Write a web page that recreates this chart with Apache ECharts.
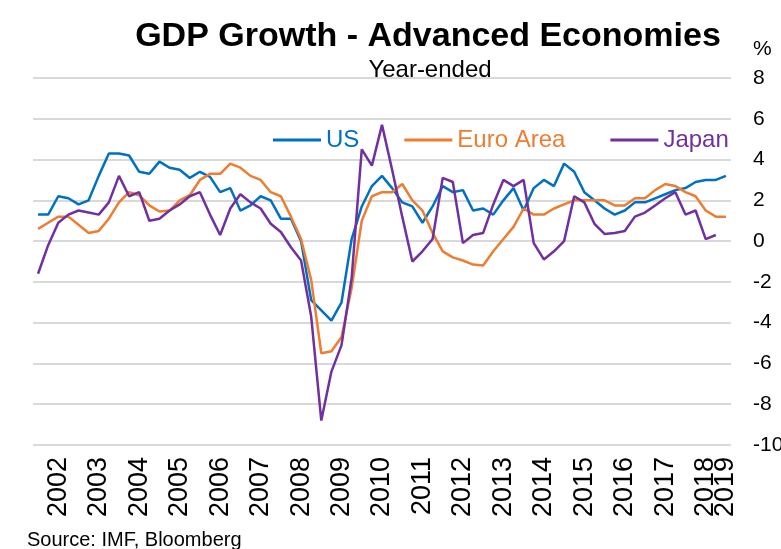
<!DOCTYPE html>
<html>
<head>
<meta charset="utf-8">
<script src="https://cdn.jsdelivr.net/npm/echarts@6/dist/echarts.min.js"></script>
<style>
  html, body { margin: 0; padding: 0; background: #fff; }
  #chart { width: 781px; height: 549px; }
</style>
</head>
<body>
<div id="chart"></div>
<script>
// quarterly, 2002Q1 .. 2019Q1
const quarters = []
for (let y = 2002; y <= 2019; y++) {
    for (let q = 1; q <= 4; q++) {
        if (y === 2019 && q > 1) break
        quarters.push(y + 'Q' + q)
    }
}

const usGrowth = [
    1.3, 1.3, 2.2, 2.1, 1.8, 2.0, 3.2, 4.3, 4.3, 4.2, 3.4, 3.3,
    3.9, 3.6, 3.5, 3.1, 3.4, 3.15, 2.4, 2.6, 1.5, 1.75, 2.2, 2.0,
    1.1, 1.1, 0.0, -2.9, -3.4, -3.9, -3.0, 0.1, 1.7, 2.7, 3.2, 2.6,
    1.9, 1.7, 0.9, 1.7, 2.7, 2.4, 2.5, 1.5, 1.6, 1.3, 2.0, 2.6,
    1.5, 2.6, 3.0, 2.7, 3.8, 3.4, 2.4, 2.0, 1.6, 1.3, 1.5, 1.9,
    1.9, 2.1, 2.3, 2.5, 2.6, 2.9, 3.0, 3.0, 3.2
]
const euroGrowth = [
    0.6, 0.9, 1.2, 1.2, 0.8, 0.4, 0.5, 1.1, 1.9, 2.4, 2.25, 1.75,
    1.45, 1.5, 2.0, 2.25, 3.0, 3.3, 3.3, 3.8, 3.6, 3.2, 3.0, 2.4,
    2.2, 1.2, 0.1, -1.9, -5.5, -5.4, -4.7, -2.3, 1.0, 2.2, 2.4, 2.4,
    2.8, 2.0, 1.5, 0.4, -0.5, -0.8, -0.95, -1.15, -1.2, -0.5, 0.1, 0.7,
    1.6, 1.3, 1.3, 1.6, 1.8, 2.0, 2.0, 2.0, 2.0, 1.75, 1.75, 2.1,
    2.1, 2.5, 2.8, 2.7, 2.4, 2.2, 1.5, 1.2, 1.2
]
const japanGrowth = [
    -1.6, -0.2, 0.9, 1.3, 1.5, 1.4, 1.3, 1.9, 3.2, 2.2, 2.4, 1.0,
    1.1, 1.5, 1.8, 2.2, 2.4, 1.3, 0.3, 1.6, 2.3, 1.9, 1.6, 0.85,
    0.45, -0.3, -0.95, -3.7, -8.8, -6.4, -5.1, -1.8, 4.5, 3.7, 5.7, 3.5,
    1.2, -1.0, -0.5, 0.1, 3.1, 2.9, -0.1, 0.3, 0.4, 1.8, 3.0, 2.7,
    3.0, -0.1, -0.9, -0.5, 0.0, 2.2, 1.9, 0.85, 0.35, 0.4, 0.5, 1.2,
    1.4, 1.75, 2.1, 2.4, 1.3, 1.5, 0.1, 0.3, null
]

const seriesNames = ['US', 'Euro Area', 'Japan']
const seriesColors = ['#0070C0', '#ED7D31', '#7030A0']
const yTicks = [-10, 8, 2]  // min, max, step

const FONT = '"Liberation Sans", Arial, sans-serif'

const chart = echarts.init(document.getElementById('chart'))

const lineSeries = (name, data, color) => ({
    name: name,
    type: 'line',
    data: data,
    showSymbol: false,
    symbol: 'none',
    smooth: false,
    lineStyle: { color: color, width: 2.5 },
    itemStyle: { color: color }
})

// the last year label sits right next to 2018, so it gets its own axis
// otherwise echarts drops one of the two
const xLabelStyle = (showIdx) => ({
    rotate: 90,
    margin: 12,
    fontSize: 27,
    color: '#000',
    fontFamily: FONT,
    hideOverlap: false,
    interval: showIdx,
    formatter: (v) => v.slice(0, 4)
})

const lastIdx = quarters.length - 1

const option = {
    animation: false,
    backgroundColor: '#fff',
    textStyle: { fontFamily: FONT },
    // keep the plot where it is, let -10 run off the edge like the original
    grid: { left: 33, right: 50, top: 78, bottom: 104, outerBoundsMode: 'none' },
    legend: {
        left: 273,
        top: 128,
        padding: 0,
        itemWidth: 48,
        itemHeight: 3,
        itemGap: 45,
        icon: 'rect',
        textStyle: { fontSize: 24, fontFamily: FONT },
        data: seriesNames.map((n, i) => ({ name: n, textStyle: { color: seriesColors[i] } }))
    },
    xAxis: [
        {
            type: 'category',
            data: quarters,
            boundaryGap: true,
            axisLine: { show: false },
            axisTick: { show: false },
            axisLabel: xLabelStyle((idx) => idx % 4 === 2 && idx !== lastIdx)
        },
        {
            type: 'category',
            data: quarters,
            position: 'bottom',
            boundaryGap: true,
            axisLine: { show: false },
            axisTick: { show: false },
            splitLine: { show: false },
            axisLabel: xLabelStyle((idx) => idx === lastIdx)
        }
    ],
    yAxis: {
        type: 'value',
        position: 'right',
        min: yTicks[0],
        max: yTicks[1],
        interval: yTicks[2],
        axisLine: { show: false },
        axisTick: { show: false },
        splitLine: { lineStyle: { color: '#d9d9d9', width: 2 } },
        axisLabel: {
            margin: 22,
            align: 'left',
            fontSize: 21,
            color: '#000',
            fontFamily: FONT
        }
    },
    graphic: [
        {
            type: 'text', x: 428, y: 37,
            style: { text: 'GDP Growth - Advanced Economies', fontSize: 34, fontWeight: 'bold',
                     fontFamily: FONT, fill: '#000', align: 'center', verticalAlign: 'middle' }
        },
        {
            type: 'text', x: 430, y: 70,
            style: { text: 'Year-ended', fontSize: 24, fontFamily: FONT, fill: '#000',
                     align: 'center', verticalAlign: 'middle' }
        },
        {
            type: 'text', x: 753, y: 49,
            style: { text: '%', fontSize: 21, fontFamily: FONT, fill: '#000',
                     align: 'left', verticalAlign: 'middle' }
        },
        {
            type: 'text', x: 27, y: 540,
            style: { text: 'Source: IMF, Bloomberg', fontSize: 20, fontFamily: FONT, fill: '#000',
                     align: 'left', verticalAlign: 'middle' }
        }
    ],
    series: [
        lineSeries(seriesNames[0], usGrowth, seriesColors[0]),
        lineSeries(seriesNames[1], euroGrowth, seriesColors[1]),
        lineSeries(seriesNames[2], japanGrowth, seriesColors[2])
    ]
}

chart.setOption(option)
</script>
</body>
</html>
